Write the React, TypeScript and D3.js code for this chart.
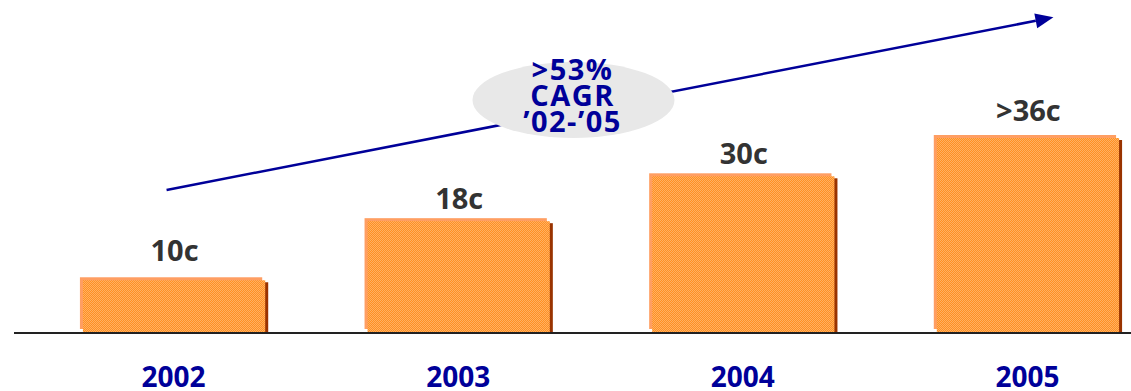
import React from "react";
import * as d3 from "d3";

// Categories and values (bar heights, in cents)
const years = ["2002", "2003", "2004", "2005"];
const barValues = [10, 20.8, 29, 36];
const valueLabels = ["10c", "18c", "30c", ">36c"];
const cagrLines = [">53%", "CAGR", "\u201902-\u201905"];

const W = 1131;
const H = 391;
const baseY = 332;
const NAVY = "#000099";
const FONT = "'Open Sans', 'DejaVu Sans', sans-serif";
const labelGap = [16, 9, 9, 14];

export default function App() {
  const x = d3.scaleBand<string>().domain(years).range([23, 1176]).paddingInner(0.349).paddingOuter(0.2);
  const y = d3.scaleLinear().domain([0, 36]).range([baseY, 135]);
  const bw = x.bandwidth();

  // annotation arrow anchored to the scales
  const x0 = (x("2002") as number) + bw / 2 - 6;
  const x1 = (x("2005") as number) + bw / 2 + 27;
  const y0 = y(25.95);
  const y1 = y(57.5);
  const ang = Math.atan2(y1 - y0, x1 - x0);
  const headLen = 18;
  const headW = 7.5;
  const bx = x1 - headLen * Math.cos(ang);
  const by = y1 - headLen * Math.sin(ang);
  const px = -Math.sin(ang) * headW;
  const py = Math.cos(ang) * headW;

  const ex = ((x("2003") as number) + (x("2004") as number) + bw) / 2 - 26;
  const ey = y(42.4);

  return (
    <div style={{ position: "absolute", left: 0, top: 0 }}>
      <svg width={W} height={H} style={{ display: "block" }}>
        <defs>
          <pattern id="chk" width={2} height={2} patternUnits="userSpaceOnUse">
            <rect width={2} height={2} fill="#FF9022" />
            <rect width={1} height={1} fill="#FFB062" />
            <rect x={1} y={1} width={1} height={1} fill="#FFB062" />
          </pattern>
        </defs>

        {years.map((yr, i) => {
          const bx0 = x(yr) as number;
          const top = y(barValues[i]);
          const h = baseY - top;
          return (
            <g key={yr}>
              <rect x={bx0 + 6} y={top + 5} width={bw - 3} height={h - 5} fill="#993300" />
              <rect x={bx0} y={top} width={bw - 3} height={h - 3} fill="#FF9E62" />
              <rect x={bx0 + 3} y={top + 3} width={bw - 3} height={h - 3} fill="url(#chk)" />
              <text
                x={bx0 + bw / 2 + 2}
                y={top - labelGap[i]}
                textAnchor="middle"
                fontFamily={FONT}
                fontWeight={700}
                fontSize={29}
                fill="#333333"
              >
                {valueLabels[i]}
              </text>
              <text
                x={bx0 + bw / 2 + 1}
                y={387}
                textAnchor="middle"
                fontFamily={FONT}
                fontWeight={700}
                fontSize={28}
                fill={NAVY}
              >
                {yr}
              </text>
            </g>
          );
        })}

        <line x1={14} x2={W} y1={baseY + 1} y2={baseY + 1} stroke="#222" strokeWidth={2} />

        <line x1={x0} y1={y0} x2={bx} y2={by} stroke={NAVY} strokeWidth={2.5} />
        <path d={`M${x1},${y1} L${bx + px},${by + py} L${bx - px},${by - py} Z`} fill={NAVY} />

        <ellipse cx={ex} cy={ey} rx={101} ry={38} fill="#E8E8E8" />
        {cagrLines.map((t, i) => (
          <text
            key={i}
            x={ex - 1}
            y={ey - 20 + i * 26}
            textAnchor="middle"
            fontFamily={FONT}
            fontWeight={700}
            fontSize={29}
            letterSpacing={1.5}
            fill={NAVY}
          >
            {t}
          </text>
        ))}
      </svg>
    </div>
  );
}
